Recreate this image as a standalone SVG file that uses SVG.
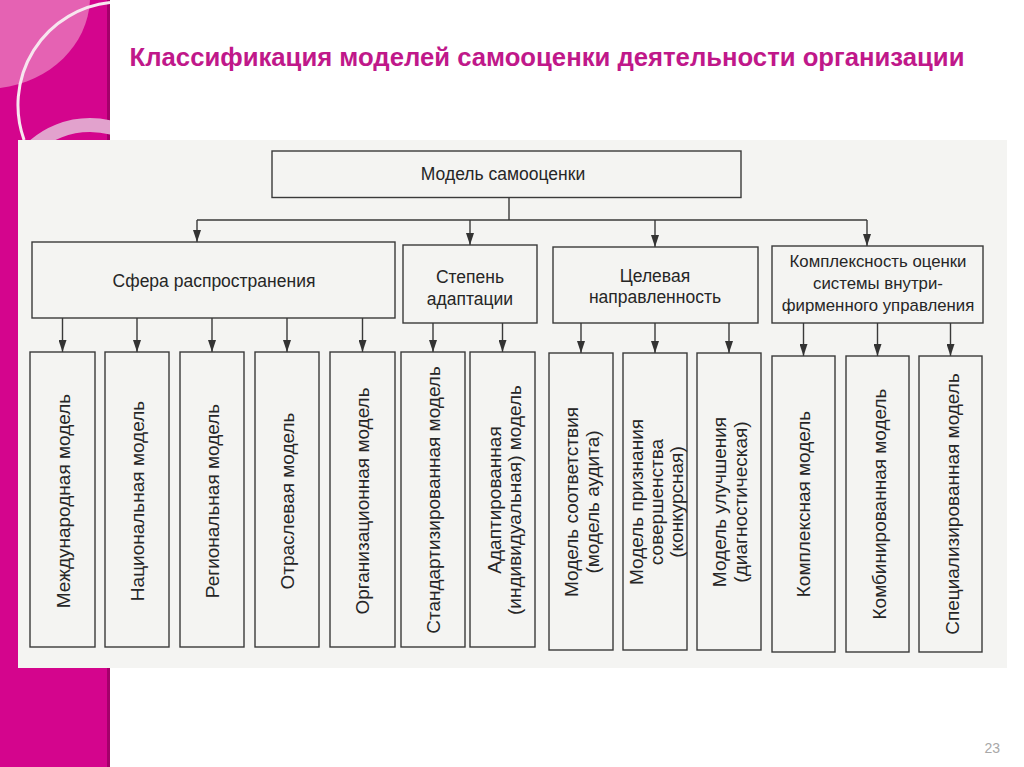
<svg xmlns="http://www.w3.org/2000/svg" width="1024" height="767" viewBox="0 0 1024 767">
<style>
.box{fill:none;stroke:#3a3a3a;stroke-width:1.4}
.lbl{font-family:"Liberation Sans",Arial,sans-serif;font-size:17.5px;fill:#262626;text-anchor:middle}
.sm{font-size:16.8px}
.vl{font-family:"Liberation Sans",Arial,sans-serif;font-size:19px;fill:#262626;text-anchor:middle;dominant-baseline:central}
.con{fill:none;stroke:#3a3a3a;stroke-width:1.4}
.arr{fill:none;stroke:#3a3a3a;stroke-width:1.4;marker-end:url(#ah)}
</style>
<defs>
<marker id="ah" viewBox="0 0 12 8" refX="12" refY="4" markerWidth="12" markerHeight="8" markerUnits="userSpaceOnUse" orient="auto">
<path d="M0,0 L12,4 L0,8 Z" fill="#333"/>
</marker>
<clipPath id="deco"><rect x="0" y="0" width="110" height="140"/></clipPath>
</defs>
<rect x="0" y="0" width="1024" height="767" fill="#ffffff"/>
<g id="decoration">
<rect x="0" y="0" width="110" height="767" fill="#d4058d"/>
<rect x="107" y="0" width="3" height="767" fill="#a4006a"/>
<g clip-path="url(#deco)">
<path d="M0,0 H90 C88,45 50,82 0,88 Z" fill="#e562b3"/>
<circle cx="90" cy="210" r="85" fill="none" stroke="#e2a2cd" stroke-width="14"/>
<path d="M110,2.6 A103,103 0 0 0 24.1,140" fill="none" stroke="#f7e6ef" stroke-width="3"/>
</g>
</g>
<rect id="scan" x="18" y="140" width="989" height="528" fill="#f4f4f2"/>
<text id="title" x="547" y="66" font-family="'Liberation Sans',Arial,sans-serif" font-size="25.7" font-weight="bold" fill="#c0188a" text-anchor="middle">Классификация моделей самооценки деятельности организации</text>
<g id="connectors">
<path class="con" d="M509,197.5 V220 M197,220 H867"/>
<path class="arr" d="M197,220 V242"/>
<path class="arr" d="M470,220 V245"/>
<path class="arr" d="M655,220 V247"/>
<path class="arr" d="M867,220 V246"/>
<path class="arr" d="M62.5,318 V352"/>
<path class="arr" d="M137,318 V352"/>
<path class="arr" d="M212,318 V352"/>
<path class="arr" d="M287,318 V352"/>
<path class="arr" d="M362.5,318 V352"/>
<path class="arr" d="M433,323 V352"/>
<path class="arr" d="M502.5,323 V352"/>
<path class="arr" d="M581,323 V353"/>
<path class="arr" d="M655,323 V353"/>
<path class="arr" d="M729,323 V353"/>
<path class="arr" d="M803.5,323 V356"/>
<path class="arr" d="M877.5,323 V356"/>
<path class="arr" d="M950.5,323 V356"/>
</g>
<g id="root"><rect class="box" x="272" y="151" width="469" height="46.5"/><text class="lbl" x="503" y="180">Модель самооценки</text></g>
<g id="sfera"><rect class="box" x="32" y="242" width="363" height="76"/><text class="lbl" x="214" y="287">Сфера распространения</text></g>
<g id="stepen"><rect class="box" x="403" y="245" width="134" height="78"/><text class="lbl" x="470"><tspan x="470" y="283">Степень</tspan><tspan x="470" y="305">адаптации</tspan></text></g>
<g id="tselevaya"><rect class="box" x="553" y="247" width="205" height="76"/><text class="lbl" x="655"><tspan x="655" y="282">Целевая</tspan><tspan x="655" y="303">направленность</tspan></text></g>
<g id="kompleksnost"><rect class="box" x="772" y="246" width="211" height="77"/><text class="lbl sm" x="878"><tspan x="878" y="267">Комплексность оценки</tspan><tspan x="878" y="289">системы внутри-</tspan><tspan x="878" y="311">фирменного управления</tspan></text></g>
<g id="m1"><rect class="box" x="30" y="352" width="65" height="295"/><text class="vl" transform="translate(63,501) rotate(-90)">Международная модель</text></g>
<g id="m2"><rect class="box" x="105" y="352" width="64" height="295"/><text class="vl" transform="translate(137,501) rotate(-90)">Национальная модель</text></g>
<g id="m3"><rect class="box" x="180" y="352" width="64" height="295"/><text class="vl" transform="translate(212,501) rotate(-90)">Региональная модель</text></g>
<g id="m4"><rect class="box" x="255" y="352" width="64" height="295"/><text class="vl" transform="translate(287,501) rotate(-90)">Отраслевая модель</text></g>
<g id="m5"><rect class="box" x="330" y="352" width="65" height="295"/><text class="vl" transform="translate(362,501) rotate(-90)">Организационная модель</text></g>
<g id="m6"><rect class="box" x="401" y="352" width="64" height="295"/><text class="vl" transform="translate(433,500) rotate(-90)">Стандартизированная модель</text></g>
<g id="m7"><rect class="box" x="470" y="352" width="65" height="295"/><text class="vl" transform="translate(494,500) rotate(-90)">Адаптированная</text><text class="vl" transform="translate(514,500) rotate(-90)">(индивидуальная) модель</text></g>
<g id="m8"><rect class="box" x="549" y="353" width="64" height="297"/><text class="vl" transform="translate(571,502) rotate(-90)">Модель соответствия</text><text class="vl" transform="translate(592,502) rotate(-90)">(модель аудита)</text></g>
<g id="m9"><rect class="box" x="623" y="353" width="64" height="297"/><text class="vl" transform="translate(636,502) rotate(-90)">Модель признания</text><text class="vl" transform="translate(656,502) rotate(-90)">совершенства</text><text class="vl" transform="translate(676,502) rotate(-90)">(конкурсная)</text></g>
<g id="m10"><rect class="box" x="697" y="353" width="64" height="297"/><text class="vl" transform="translate(719,502) rotate(-90)">Модель улучшения</text><text class="vl" transform="translate(740,502) rotate(-90)">(диагностическая)</text></g>
<g id="m11"><rect class="box" x="772" y="356" width="63" height="296"/><text class="vl" transform="translate(803,504) rotate(-90)">Комплексная модель</text></g>
<g id="m12"><rect class="box" x="846" y="356" width="63" height="296"/><text class="vl" transform="translate(879,504) rotate(-90)">Комбинированная модель</text></g>
<g id="m13"><rect class="box" x="919" y="356" width="63" height="296"/><text class="vl" transform="translate(952,504) rotate(-90)">Специализированная модель</text></g>
<text id="page" x="1000" y="753" font-family="'Liberation Sans',Arial,sans-serif" font-size="14" fill="#a8a8a8" text-anchor="end">23</text>
</svg>
